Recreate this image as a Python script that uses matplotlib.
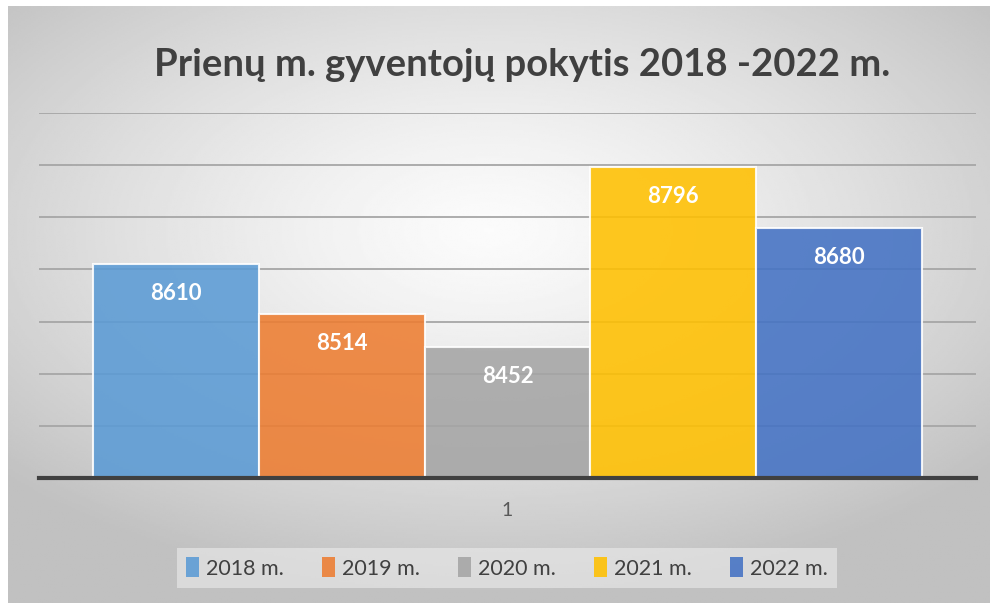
import numpy as np
import matplotlib.pyplot as plt
from matplotlib.patches import Patch

plt.rcParams['font.family'] = ['Lato', 'DejaVu Sans']

years = ['2018 m.', '2019 m.', '2020 m.', '2021 m.', '2022 m.']
values = [8610, 8514, 8452, 8796, 8680]
colors = ['#5b9bd5', '#ed7d31', '#a5a5a5', '#ffc000', '#4472c4']
category = '1'

fig = plt.figure(figsize=(9.93, 6.03), dpi=100, facecolor='white')

# radial grey background
bg = fig.add_axes([8 / 993, 0, 982 / 993, 597 / 603])
yy, xx = np.mgrid[-1:1:300j, -1:1:500j]
r = np.sqrt((xx + 0.02) ** 2 + ((yy + 0.25) * 1.1) ** 2)
shade = 0.985 - 0.23 * np.clip(r / 1.35, 0, 1) ** 1.3
bg.imshow(shade, cmap='gray', vmin=0, vmax=1, aspect='auto', extent=[0, 1, 0, 1])
bg.axis('off')

ax = fig.add_axes([39 / 993, 1 - 478 / 603, 937 / 993, 365 / 603])
ax.patch.set_alpha(0)

n = len(values)
group = 0.884
w = group / n
for i in range(n):
    x = -group / 2 + w * (i + 0.5)
    ax.bar(x, values[i] - 8200, bottom=8200, width=w, color=colors[i], alpha=0.88,
           edgecolor='white', linewidth=1.5, label=years[i], zorder=3)
    ax.text(x, values[i] - 57, str(values[i]), ha='center', va='center', color='white',
            fontsize=16, fontweight='bold', zorder=4)

ax.set_xlim(-0.5, 0.5)
ax.set_ylim(8200, 8900)
ax.set_yticks(range(8300, 8901, 100))
ax.yaxis.grid(True, color='#a6a6a6', linewidth=1.3, zorder=1)
ax.set_axisbelow(True)
ax.tick_params(left=False, labelleft=False, bottom=False)
ax.set_xticks([0])
ax.set_xticklabels([category], fontsize=14, color='#595959')
ax.tick_params(axis='x', pad=14)
for s in ['top', 'right', 'left']:
    ax.spines[s].set_visible(False)
ax.spines['bottom'].set_color('#404040')
ax.spines['bottom'].set_linewidth(3)
ax.spines['bottom'].set_zorder(5)

fig.text(522 / 993, 1 - 65 / 603, 'Prienų m. gyventojų pokytis 2018 -2022 m.',
         ha='center', va='center', fontsize=27.5, fontweight='bold', color='#404040')

handles = [Patch(facecolor=c, alpha=0.88) for c in colors]
leg = fig.legend(handles, years, loc='center', bbox_to_anchor=(507 / 993, 1 - 568 / 603),
                 ncol=5, frameon=True, fontsize=15.5, handlelength=0.6, handleheight=1.0,
                 handletextpad=0.3, columnspacing=1.8, fancybox=False, borderpad=0.45)
leg.get_frame().set_facecolor('#ececec')
leg.get_frame().set_alpha(0.6)
leg.get_frame().set_edgecolor('none')
for t in leg.get_texts():
    t.set_color('#404040')

fig.savefig('out.png', dpi=100, facecolor='white')
